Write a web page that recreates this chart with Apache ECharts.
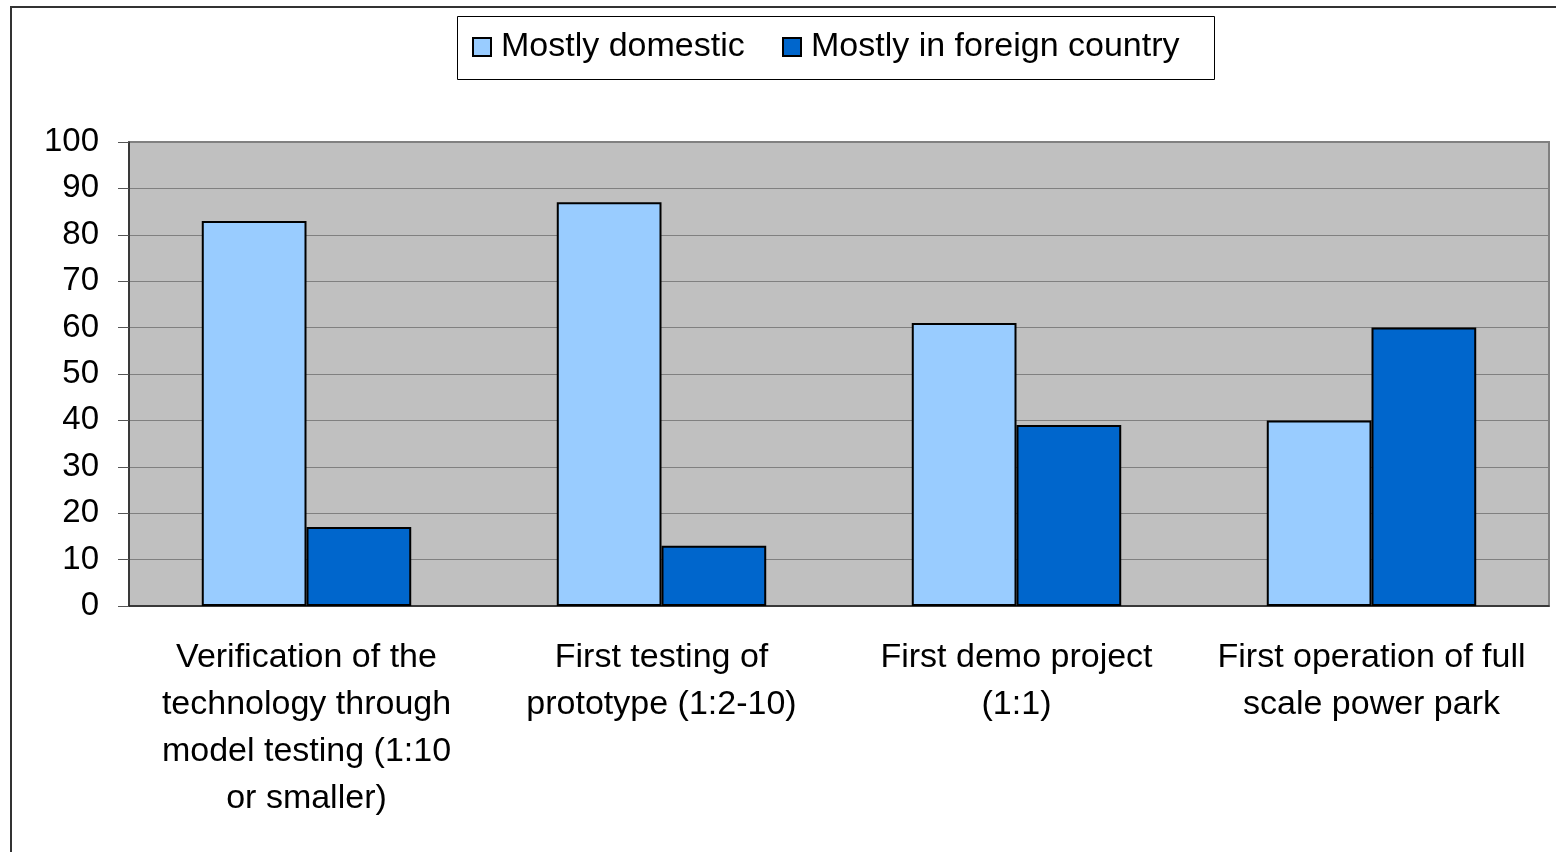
<!DOCTYPE html>
<html>
<head>
<meta charset="utf-8">
<script src="https://cdn.jsdelivr.net/npm/echarts@6/dist/echarts.min.js"></script>
<style>
  html, body { margin: 0; padding: 0; background: #fff; }
  #chart { width: 1556px; height: 852px; }
</style>
</head>
<body>
<div id="chart"></div>
<script>
// categories (line breaks as in the original)
const categories = [
  'Verification of the\ntechnology through\nmodel testing (1:10\nor smaller)',
  'First testing of\nprototype (1:2-10)',
  'First demo project\n(1:1)',
  'First operation of full\nscale power park'
];
const domestic = [83, 87, 61, 40];
const foreign = [17, 13, 39, 60];
const seriesNames = ['Mostly domestic', 'Mostly in foreign country'];

const chart = echarts.init(document.getElementById('chart'));
const font = 'Liberation Sans, Arial, sans-serif';

const legendBase = {
  top: 30,
  padding: 0,
  itemWidth: 18,
  itemHeight: 18,
  icon: 'rect',
  itemStyle: { borderColor: '#000', borderWidth: 2 },
  textStyle: { fontSize: 34, color: '#000', fontFamily: font, padding: [0, 0, 0, 5] }
};

chart.setOption({
  animation: false,
  textStyle: { fontFamily: font },
  graphic: [
    {
      type: 'rect',
      shape: { x: 11, y: 7, width: 1600, height: 900 },
      style: { fill: 'none', stroke: '#333', lineWidth: 2 },
      z: -1
    },
    {
      type: 'rect',
      shape: { x: 457.5, y: 16.5, width: 757, height: 63 },
      style: { fill: '#fff', stroke: '#000', lineWidth: 1 },
      z: -1
    }
  ],
  legend: [
    Object.assign({}, legendBase, { left: 472, data: [seriesNames[0]] }),
    Object.assign({}, legendBase, { left: 782, data: [seriesNames[1]] })
  ],
  grid: {
    left: 129,
    top: 142,
    width: 1420,
    height: 464,
    show: true,
    backgroundColor: '#C0C0C0',
    borderColor: '#808080',
    borderWidth: 2
  },
  xAxis: {
    type: 'category',
    data: categories,
    axisLine: { lineStyle: { color: '#222', width: 1.5 } },
    axisTick: { length: 11, lineStyle: { color: '#555' } },
    axisLabel: {
      color: '#000',
      fontSize: 34,
      lineHeight: 47,
      margin: 28,
      interval: 0,
      fontFamily: font
    }
  },
  yAxis: {
    type: 'value',
    min: 0,
    max: 100,
    interval: 10,
    axisLine: { show: true, lineStyle: { color: '#222', width: 1.5 } },
    axisTick: { show: true, length: 11, lineStyle: { color: '#555' } },
    axisLabel: { color: '#000', fontSize: 33, margin: 30, fontFamily: font },
    splitLine: { lineStyle: { color: '#808080', width: 1 } }
  },
  series: [
    {
      name: seriesNames[0],
      type: 'bar',
      data: domestic,
      barGap: '0%',
      barCategoryGap: '41%',
      itemStyle: { color: '#99CCFF', borderColor: '#000', borderWidth: 2 }
    },
    {
      name: seriesNames[1],
      type: 'bar',
      data: foreign,
      itemStyle: { color: '#0066CC', borderColor: '#000', borderWidth: 2 }
    }
  ]
});
</script>
</body>
</html>
